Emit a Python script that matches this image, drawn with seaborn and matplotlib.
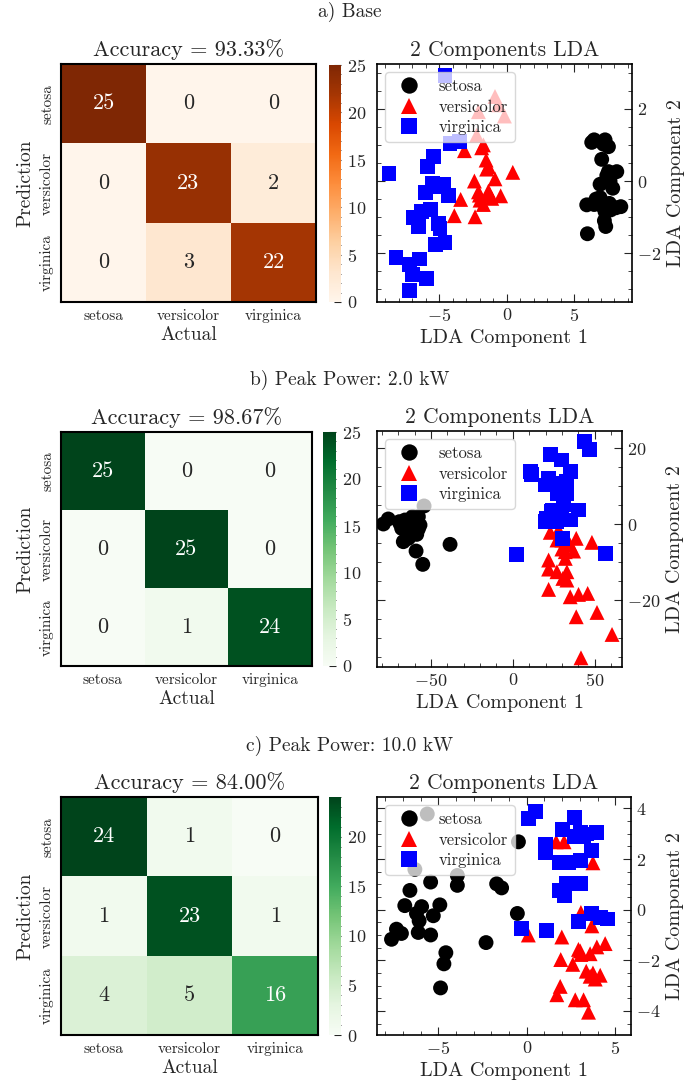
import numpy as np
import pandas as pd
import matplotlib
matplotlib.use("Agg")
import matplotlib.pyplot as plt
from matplotlib.ticker import MultipleLocator
import seaborn as sns

# ---------------- data ----------------
CLASSES = ["setosa", "versicolor", "virginica"]
SUPTITLES = ["a) Base", "b) Peak Power: 2.0 kW", "c) Peak Power: 10.0 kW"]
ACCURACY = ["93.33", "98.67", "84.00"]
CMAPS = ["Oranges", "Greens", "Greens"]

CM_A = [[25, 0, 0], [0, 23, 2], [0, 3, 22]]
CM_B = [[25, 0, 0], [0, 25, 0], [0, 1, 24]]
CM_C = [[24, 1, 0], [1, 23, 1], [4, 5, 16]]

# panel a LDA projections
A_SET_X = [6.49, 7.30, 7.55, 7.05, 7.55, 8.17, 6.93, 7.87, 6.63, 5.94, 7.62, 8.47, 7.72,
           7.25, 7.35, 5.99, 6.31, 7.18, 7.43, 7.05, 8.12, 7.30, 6.93, 7.67, 6.49]
A_SET_Y = [1.14, 1.14, 0.95, 0.60, 0.26, 0.26, -0.09, -0.20, -0.50, -0.66, -0.62, -0.71, -0.80,
           -1.10, -1.26, -1.46, 1.07, 1.02, 0.15, -0.68, -0.74, -0.85, -0.46, 0.00, -0.65]
A_VER_X = [-0.87, -2.10, -0.62, -0.17, -2.23, -3.14, -1.86, -1.53, -1.36, 0.45, -2.40, -0.87, -2.10,
           -1.36, -0.45, -3.42, -1.98, -1.73, -1.11, -3.89, -2.35, -1.73, -1.24, -2.03, -1.49]
A_VER_Y = [2.34, 1.92, 2.11, 1.80, 1.27, 0.84, 0.92, 0.58, 0.40, 0.24, 0.00, 0.06, -0.30,
           -0.28, -0.41, -0.51, -0.53, -0.65, -0.48, -0.96, -0.99, 1.00, -0.39, -0.39, 0.33]
A_VIR_X = [-4.58, -4.21, -3.51, -5.45, -5.89, -8.74, -5.50, -4.70, -6.06, -4.33, -5.64, -6.31, -6.93,
           -6.56, -5.07, -4.95, -5.32, -4.58, -8.22, -7.23, -6.49, -6.98, -5.94, -7.23, -5.20]
A_VIR_Y = [2.92, 1.04, 1.09, 0.67, 0.40, 0.21, -0.06, -0.09, -0.31, -0.39, -0.78, -0.85, -1.02,
           -1.27, -1.17, -1.31, -1.75, -1.70, -2.11, -2.31, -2.16, -2.59, -2.70, -3.02, -0.16]

# panel b LDA projections
B_SET_X = [-79.2, -76.2, -69.0, -63.3, -57.8, -54.3, -67.0, -59.2, -55.1, -38.4, -63.3, -58.8, -65.4,
           -60.9, -56.8, -68.0, -62.5, -59.9, -64.5, -61.9, -57.8, -66.0, -61.3, -69.4, -63.9]
B_SET_Y = [0.09, 1.41, 0.18, 1.14, 2.02, 4.84, -4.57, -7.04, -10.55, -5.28, -1.76, -2.64, -0.62,
           -0.18, -0.18, -1.06, -2.81, 0.70, 0.26, -1.06, -1.23, 1.14, 2.02, 0.70, -3.69]
B_VER_X = [22.9, 28.0, 38.8, 48.4, 30.0, 37.2, 32.1, 21.9, 21.9, 27.0, 33.1, 30.6, 33.1,
           21.9, 35.1, 40.2, 45.8, 38.8, 51.5, 60.7, 41.7, 27.0, 35.1, 30.0, 32.1]
B_VER_Y = [-2.11, -1.50, -3.69, -4.75, -6.51, -7.04, -8.97, -9.41, -11.79, -12.49, -12.49, -14.25, -14.69,
           -17.15, -19.09, -18.47, -18.21, -24.36, -23.22, -29.02, -35.18, -4.13, -5.45, -4.13, -7.21]
B_VIR_X = [43.7, 47.0, 22.9, 30.0, 10.6, 11.6, 35.1, 21.9, 33.1, 19.8, 25.9, 27.0, 33.1,
           31.0, 40.2, 23.9, 30.0, 20.8, 27.0, 35.1, 19.8, 30.6, 2.5, 56.6, 24.5]
B_VIR_Y = [21.81, 19.61, 18.29, 16.97, 13.90, 13.02, 13.90, 12.14, 11.26, 10.38, 10.82, 8.18, 8.18,
           5.10, 3.78, 3.34, 2.46, 1.58, 0.70, 1.14, 0.70, -3.69, -7.92, -7.65, 3.78]

# panel c LDA projections
C_SET_X = [-5.62, -6.32, -3.92, -0.47, -5.43, -3.92, -1.70, -1.42, -6.60, -6.89, -5.94, -4.91, -6.23,
           -5.28, -6.08, -0.53, -7.36, -7.08, -7.64, -6.13, -5.43, -2.30, -4.57, -4.68, -4.87]
C_SET_Y = [3.78, 1.59, 1.35, 2.68, 1.09, 0.96, 1.02, 0.86, 0.76, 0.16, 0.12, 0.19, -0.15,
           -0.24, -0.44, -0.15, -0.77, -0.94, -1.17, -0.90, -1.00, -1.30, -1.70, -2.14, -3.09]
C_VER_X = [1.66, 2.11, 3.74, 3.06, 3.68, 0.09, 1.98, 3.02, 3.58, 3.96, 4.43, 1.92, 2.60,
           3.36, 3.74, 4.15, 3.87, 1.89, 1.70, 2.74, 3.21, 3.49, 3.06, 3.58, 2.92]
C_VER_Y = [2.68, 2.68, 1.85, -0.11, -0.64, -1.00, -1.08, -1.63, -1.74, -1.47, -1.34, -1.97, -2.16,
           -2.43, -2.50, -2.59, -2.74, -3.03, -3.36, -3.56, -3.56, -4.05, -1.77, -2.63, -1.57]
C_VIR_X = [0.09, 0.47, 2.68, 2.04, 2.68, 3.06, 3.40, 3.92, 1.04, 1.04, 3.68, 1.85, 2.36,
           3.02, 2.23, 3.06, 1.85, 2.11, 2.92, 3.68, 4.15, 4.57, -0.28, 1.13, 3.21]
C_VIR_Y = [3.61, 3.88, 3.65, 3.17, 2.88, 3.04, 2.99, 3.04, 2.59, 2.24, 2.35, 1.85, 1.85,
           1.93, 1.05, 1.05, 0.76, 0.56, -0.46, -0.15, -0.31, -0.37, -0.73, -0.84, 2.88]

SCATTER = [
    (A_SET_X, A_SET_Y, A_VER_X, A_VER_Y, A_VIR_X, A_VIR_Y),
    (B_SET_X, B_SET_Y, B_VER_X, B_VER_Y, B_VIR_X, B_VIR_Y),
    (C_SET_X, C_SET_Y, C_VER_X, C_VER_Y, C_VIR_X, C_VIR_Y),
]
CMS = [CM_A, CM_B, CM_C]

# ---------------- style ----------------
sns.set_style("ticks")
plt.rcParams["font.family"] = ["cmr10", "DejaVu Serif"]
plt.rcParams["mathtext.fontset"] = "cm"
plt.rcParams["axes.formatter.use_mathtext"] = True
plt.rcParams["axes.unicode_minus"] = True
plt.rcParams["axes.edgecolor"] = "black"
plt.rcParams["axes.linewidth"] = 1.0

W, H = 700, 1089
fig = plt.figure(figsize=(W / 100, H / 100), dpi=100)


def rect(l, t, r, b):
    return [l / W, 1 - b / H, (r - l) / W, (b - t) / H]


LAYOUT = [
    dict(title_y=12, heat=(61, 64, 316, 302), cbar=(329, 65, 341, 302), sc=(377, 64, 632, 302)),
    dict(title_y=380, heat=(61, 432, 312, 666), cbar=(323, 432, 336, 666), sc=(377, 431, 622, 667)),
    dict(title_y=746, heat=(61, 797, 318, 1035), cbar=(329, 797, 341, 1035), sc=(377, 797, 631, 1035)),
]
LIMS = [
    dict(xlim=(-9.63, 9.30), ylim=(-3.35, 3.24), xmaj=5, xmin=1, ymaj=2, ymin=0.5),
    dict(xlim=(-83.1, 66.8), ylim=(-37.6, 24.6), xmaj=50, xmin=10, ymaj=20, ymin=5),
    dict(xlim=(-8.46, 5.89), ylim=(-4.95, 4.45), xmaj=5, xmin=1, ymaj=2, ymin=0.5),
]
PALETTE = {"setosa": "black", "versicolor": "red", "virginica": "blue"}
MARKERS = {"setosa": "o", "versicolor": "^", "virginica": "s"}

for i in range(3):
    lay = LAYOUT[i]
    fig.text(0.5, 1 - lay["title_y"] / H, SUPTITLES[i], ha="center", va="center", fontsize=14)

    # confusion matrix heatmap
    ax = fig.add_axes(rect(*lay["heat"]))
    cax = fig.add_axes(rect(*lay["cbar"]))
    cm = pd.DataFrame(CMS[i], index=CLASSES, columns=CLASSES)
    sns.heatmap(cm, annot=True, fmt="d", cmap=CMAPS[i], ax=ax, cbar_ax=cax,
                annot_kws={"fontsize": 16})
    for s in ax.spines.values():
        s.set_visible(True)
        s.set_linewidth(1.5)
    ax.set_title(f"Accuracy = {ACCURACY[i]}%", fontsize=16, pad=6)
    ax.set_xlabel("Actual", fontsize=14, labelpad=2)
    ax.set_ylabel("Prediction", fontsize=14)
    ax.tick_params(axis="both", which="major", direction="in", length=5, width=0.8,
                   top=True, right=True, bottom=True, left=True, labelsize=11, pad=5)
    ax.set_yticklabels(CLASSES, rotation=90, va="center")
    ax.set_xticklabels(CLASSES, rotation=0)
    cax.yaxis.set_minor_locator(MultipleLocator(1))
    cax.yaxis.set_major_locator(MultipleLocator(5))
    cax.tick_params(which="major", direction="in", length=5, width=0.8, labelsize=13, pad=4)
    cax.tick_params(which="minor", direction="in", length=2.5, width=0.6)

    # LDA scatter
    sx = fig.add_axes(rect(*lay["sc"]))
    d = SCATTER[i]
    df = pd.DataFrame({
        "x": list(d[0]) + list(d[2]) + list(d[4]),
        "y": list(d[1]) + list(d[3]) + list(d[5]),
        "cls": ["setosa"] * len(d[0]) + ["versicolor"] * len(d[2]) + ["virginica"] * len(d[4]),
    })
    sns.scatterplot(data=df, x="x", y="y", hue="cls", style="cls", palette=PALETTE,
                    markers=MARKERS, s=115, linewidth=0, ax=sx, hue_order=CLASSES,
                    style_order=CLASSES)
    lim = LIMS[i]
    sx.set_xlim(*lim["xlim"])
    sx.set_ylim(*lim["ylim"])
    sx.xaxis.set_major_locator(MultipleLocator(lim["xmaj"]))
    sx.xaxis.set_minor_locator(MultipleLocator(lim["xmin"]))
    sx.yaxis.set_major_locator(MultipleLocator(lim["ymaj"]))
    sx.yaxis.set_minor_locator(MultipleLocator(lim["ymin"]))
    sx.tick_params(which="both", direction="in", top=True, bottom=True, left=True, right=True,
                   labelleft=False, labelright=True, labelsize=13)
    sx.tick_params(which="major", length=6, width=0.8)
    sx.tick_params(which="minor", length=3, width=0.6)
    sx.yaxis.set_label_position("right")
    sx.set_xlabel("LDA Component 1", fontsize=14.5)
    sx.set_ylabel("LDA Component 2", fontsize=14.5)
    sx.set_title("2 Components LDA", fontsize=15.5, pad=6)
    for s in sx.spines.values():
        s.set_linewidth(1.2)
    leg = sx.legend(loc="upper left", frameon=True, fancybox=True, framealpha=0.75,
                    fontsize=12, markerscale=1.1, handletextpad=0.8, labelspacing=0.3,
                    borderpad=0.4)
    leg.get_frame().set_edgecolor("#cccccc")

fig.savefig("out.png", dpi=100)
